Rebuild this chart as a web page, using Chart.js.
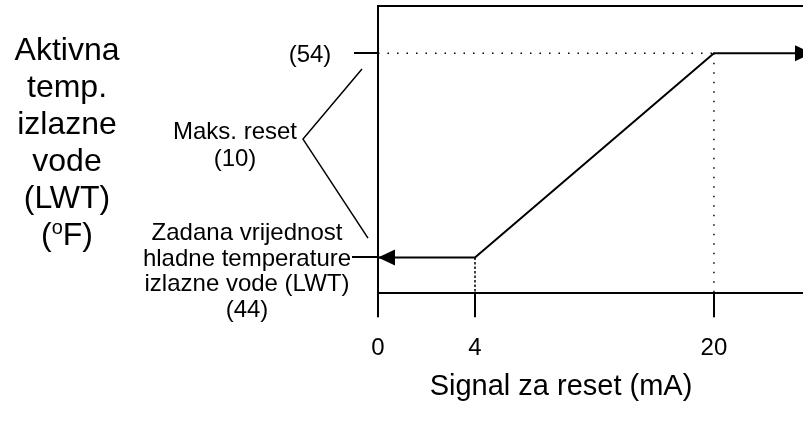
<!DOCTYPE html>
<html lang="hr">
<head>
<meta charset="UTF-8">
<title>Signal za reset</title>
<script src="https://cdn.jsdelivr.net/npm/chart.js"></script>
<style>
    html, body { margin: 0; padding: 0; overflow: hidden; background: #fff; }
    #chart { display: block; }
</style>
</head>
<body>
<canvas id="chart" width="812" height="427"></canvas>
<script>
    // Podaci
    const signalMa = [0, 4, 20, 24];          // signal za reset (mA)
    const activeLwt = [44, 44, 54, 54];       // aktivna temp. izlazne vode (oF)
    const xTickValues = [0, 4, 20];
    const setpointLwt = 44;
    const maxLwt = 54;
    const maxReset = 10;
    const startSignal = 4;
    const fullSignal = 20;

    const yTitleLines = ['Aktivna', 'temp.', 'izlazne', 'vode', '(LWT)'];
    const setpointLines = ['Zadana vrijednost', 'hladne temperature', 'izlazne vode (LWT)', '(' + setpointLwt + ')'];
    const resetLines = ['Maks. reset', '(' + maxReset + ')'];
    const xTitle = 'Signal za reset (mA)';

    const FONT = "'Liberation Sans', Arial, sans-serif";
    const yMin = 42.25, yMax = 56.32;

    // x os nije linearna na skici: 0-4 mA je razvučeno
    class SchematicScale extends Chart.LinearScale {
        static id = 'schematic';
        static defaults = {};
        toDecimal(v) {
            const s = this.options.stops;
            let i = 0;
            while (i < s.length - 2 && v > s[i + 1][0]) i++;
            const a = s[i], b = s[i + 1];
            return a[1] + (v - a[0]) / (b[0] - a[0]) * (b[1] - a[1]);
        }
        getPixelForValue(value) {
            if (value === null || value === undefined) return NaN;
            return this.getPixelForDecimal(this.toDecimal(value));
        }
        getValueForPixel(pixel) {
            const d = this.getDecimalForPixel(pixel);
            const s = this.options.stops;
            let i = 0;
            while (i < s.length - 2 && d > s[i + 1][1]) i++;
            const a = s[i], b = s[i + 1];
            return a[0] + (d - a[1]) / (b[1] - a[1]) * (b[0] - a[0]);
        }
    }
    Chart.register(SchematicScale);

    // strelice na krajevima linije
    const arrowPlugin = {
        id: 'arrows',
        afterDatasetsDraw(chart) {
            const ctx = chart.ctx;
            chart.data.datasets.forEach((ds, i) => {
                const pts = chart.getDatasetMeta(i).data;
                if (pts.length < 2) return;
                const heads = [];
                if (ds.arrowStart) heads.push([pts[1], pts[0]]);
                if (ds.arrowEnd) heads.push([pts[pts.length - 2], pts[pts.length - 1]]);
                heads.forEach(([from, tip]) => {
                    const ang = Math.atan2(tip.y - from.y, tip.x - from.x);
                    const len = 17, half = 8;
                    ctx.save();
                    ctx.translate(tip.x, tip.y);
                    ctx.rotate(ang);
                    ctx.beginPath();
                    ctx.moveTo(0, 0);
                    ctx.lineTo(-len, -half);
                    ctx.lineTo(-len, half);
                    ctx.closePath();
                    ctx.fillStyle = '#000';
                    ctx.fill();
                    ctx.restore();
                });
            });
        }
    };

    // natpisi lijevo od osi, okvir gore, naslovi osi
    const labelPlugin = {
        id: 'labels',
        afterDraw(chart) {
            const ctx = chart.ctx;
            const area = chart.chartArea;
            const y = chart.scales.y;
            const yMaxPx = y.getPixelForValue(maxLwt);
            const ySetPx = y.getPixelForValue(setpointLwt);
            ctx.save();
            ctx.strokeStyle = '#000';
            ctx.fillStyle = '#000';
            ctx.lineWidth = 2;

            // gornji rub
            ctx.beginPath();
            ctx.moveTo(area.left - 1, area.top);
            ctx.lineTo(area.right, area.top);
            ctx.stroke();

            // crtice na y osi
            ctx.beginPath();
            ctx.moveTo(area.left - 24, Math.round(yMaxPx));
            ctx.lineTo(area.left, Math.round(yMaxPx));
            ctx.moveTo(area.left - 26, Math.round(ySetPx));
            ctx.lineTo(area.left, Math.round(ySetPx));
            ctx.stroke();

            // zagrada za maks. reset
            const top = y.getPixelForValue(maxLwt - 0.77);
            const bot = y.getPixelForValue(setpointLwt + 0.95);
            const mid = y.getPixelForValue(setpointLwt + maxReset * 0.58);
            ctx.lineWidth = 1.5;
            ctx.beginPath();
            ctx.moveTo(area.left - 16, top);
            ctx.lineTo(area.left - 75, mid);
            ctx.lineTo(area.left - 10, bot);
            ctx.stroke();

            ctx.textAlign = 'center';
            ctx.textBaseline = 'alphabetic';

            ctx.font = '24px ' + FONT;
            ctx.fillText('(' + maxLwt + ')', 310, yMaxPx + 8.5);
            ctx.fillText(resetLines[0], 235, 139);
            ctx.fillText(resetLines[1], 235, 166);
            setpointLines.forEach((t, k) => ctx.fillText(t, 247, ySetPx - 17 + k * 25.5));

            // naslov y osi
            ctx.font = '32px ' + FONT;
            yTitleLines.forEach((t, k) => ctx.fillText(t, 67, 60 + k * 37));
            // (oF) s malim uzdignutim o
            const by = 60 + 5 * 37;
            ctx.textAlign = 'left';
            const wOpen = ctx.measureText('(').width;
            const wRest = ctx.measureText('F)').width;
            ctx.font = '20px ' + FONT;
            const wO = ctx.measureText('o').width;
            const x0 = 67 - (wOpen + wO + wRest) / 2;
            ctx.fillText('o', x0 + wOpen, by - 11);
            ctx.font = '32px ' + FONT;
            ctx.fillText('(', x0, by);
            ctx.fillText('F)', x0 + wOpen + wO, by);

            // naslov x osi
            ctx.textAlign = 'center';
            ctx.font = '29px ' + FONT;
            ctx.fillText(xTitle, 561, 395);
            ctx.restore();
        }
    };

    const ctx = document.getElementById('chart').getContext('2d');
    const dotted = { borderColor: '#000', borderWidth: 1.5, pointRadius: 0, fill: false };

    new Chart(ctx, {
        type: 'line',
        data: {
            datasets: [
                {
                    data: signalMa.map((x, i) => ({ x: x, y: activeLwt[i] })),
                    borderColor: '#000',
                    borderWidth: 2,
                    pointRadius: 0,
                    tension: 0,
                    fill: false,
                    arrowStart: true,
                    arrowEnd: true
                },
                Object.assign({
                    data: [{ x: 0, y: maxLwt }, { x: fullSignal, y: maxLwt }],
                    borderDash: [1.5, 8]
                }, dotted),
                Object.assign({
                    data: [{ x: fullSignal, y: maxLwt }, { x: fullSignal, y: yMin }],
                    borderDash: [1.5, 8]
                }, dotted),
                Object.assign({
                    data: [{ x: startSignal, y: setpointLwt }, { x: startSignal, y: yMin }],
                    borderDash: [2.5, 2]
                }, dotted)
            ]
        },
        options: {
            responsive: false,
            animation: false,
            events: [],
            layout: { padding: { left: 370, top: 6, right: 0, bottom: 47 } },
            plugins: {
                legend: { display: false },
                tooltip: { enabled: false }
            },
            scales: {
                x: {
                    type: 'schematic',
                    min: 0,
                    max: 24,
                    stops: [[0, 0], [4, 0.2235], [20, 0.774], [24, 1]],
                    afterBuildTicks: s => { s.ticks = xTickValues.map(v => ({ value: v })); },
                    border: { color: '#000', width: 2 },
                    grid: { drawOnChartArea: false, drawTicks: true, tickLength: 24, color: '#000', lineWidth: 2 },
                    ticks: {
                        color: '#000',
                        font: { family: FONT, size: 24 },
                        padding: 17,
                        maxRotation: 0,
                        autoSkip: false
                    }
                },
                y: {
                    min: yMin,
                    max: yMax,
                    border: { color: '#000', width: 2 },
                    grid: { display: false },
                    ticks: { display: false }
                }
            }
        },
        plugins: [arrowPlugin, labelPlugin]
    });
</script>
</body>
</html>
